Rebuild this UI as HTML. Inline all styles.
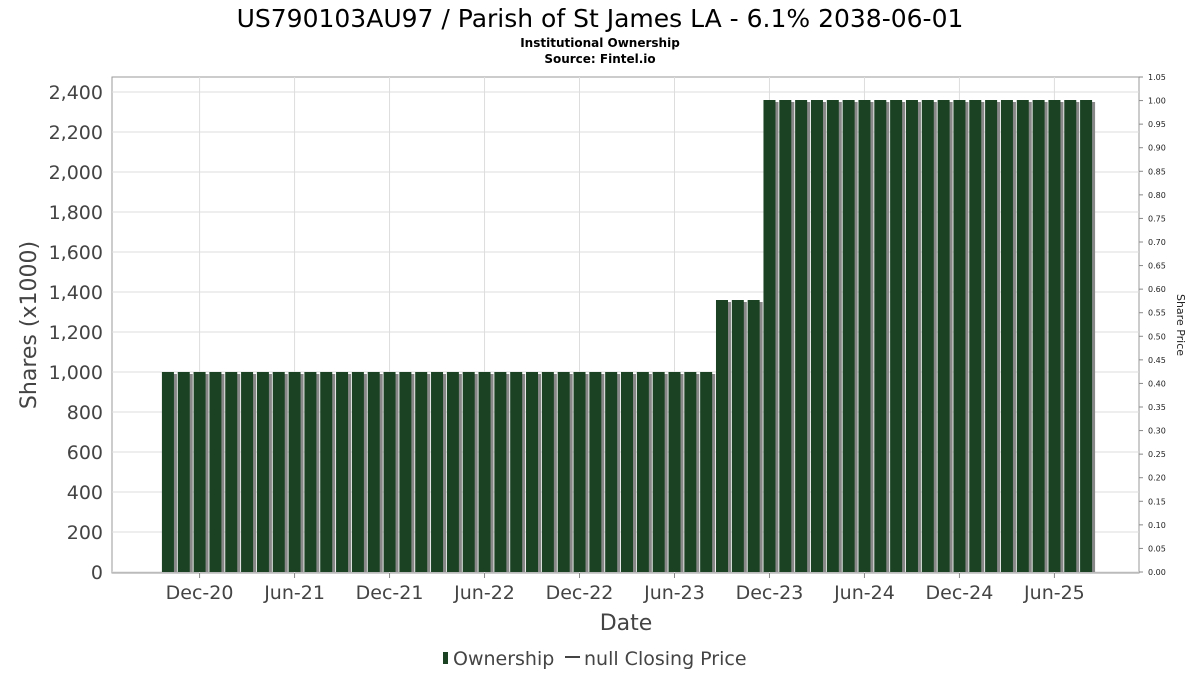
<!DOCTYPE html>
<html><head><meta charset="utf-8"><style>
body{margin:0;background:#fff;}
svg{display:block;font-family:"DejaVu Sans","Liberation Sans",sans-serif;}
</style></head><body>
<svg id="chart" width="1200" height="675" viewBox="0 0 1200 675">
<text x="600" y="27" font-size="25" text-anchor="middle" fill="#000">US790103AU97 / Parish of St James LA - 6.1% 2038-06-01</text>
<text x="600" y="47" font-size="12" font-weight="bold" text-anchor="middle">Institutional Ownership</text>
<text x="600" y="63" font-size="12" font-weight="bold" text-anchor="middle">Source: Fintel.io</text>
<rect x="112" y="77" width="1027" height="496" fill="#fff" stroke="#999"/>
<g id="grid"></g><g id="bars"></g><g id="axes"></g>
<text transform="translate(36,325) rotate(-90)" font-size="22" fill="#444" text-anchor="middle">Shares (x1000)</text>
<text transform="translate(1177,325) rotate(90)" font-size="11" fill="#222" text-anchor="middle">Share Price</text>
<text x="626" y="630" font-size="22" fill="#444" text-anchor="middle">Date</text>
<g>
<rect x="443" y="652" width="5" height="12" fill="#1a4223"/>
<text x="453" y="665" font-size="19" fill="#444">Ownership</text>
<line x1="565" y1="657" x2="580" y2="657" stroke="#444" stroke-width="2"/>
<text x="584" y="665" font-size="19" fill="#444">null Closing Price</text>
</g>
</svg>
<script>
const startYear = 2020, startMonth = 9; // Oct-20
const values = [1000,1000,1000,1000,1000,1000,1000,1000,1000,1000,1000,1000,1000,1000,1000,1000,1000,1000,1000,1000,1000,1000,1000,1000,1000,1000,1000,1000,1000,1000,1000,1000,1000,1000,1000,1360,1360,1360,2360,2360,2360,2360,2360,2360,2360,2360,2360,2360,2360,2360,2360,2360,2360,2360,2360,2360,2360,2360,2360];
const yTicks = [0,200,400,600,800,1000,1200,1400,1600,1800,2000,2200,2400];
const rightTicks = [0,0.05,0.1,0.15,0.2,0.25,0.3,0.35,0.4,0.45,0.5,0.55,0.6,0.65,0.7,0.75,0.8,0.85,0.9,0.95,1.0,1.05];
const xTickLabels = ["Dec-20","Jun-21","Dec-21","Jun-22","Dec-22","Jun-23","Dec-23","Jun-24","Dec-24","Jun-25"];
const xTickIndex = [2,8,14,20,26,32,38,44,50,56];
const NS="http://www.w3.org/2000/svg";
const x0=160, x1=1094, pitch=(x1-x0)/values.length;
const xC=i=>x0+(i+0.5)*pitch;
const y=v=>572-v*0.2;
const yR=v=>572-v*(495/1.05);
function mk(tag,attrs,parent,text){const e=document.createElementNS(NS,tag);for(const k in attrs)e.setAttribute(k,attrs[k]);if(text!==undefined)e.textContent=text;document.getElementById(parent).appendChild(e);return e;}
yTicks.forEach(v=>{
 const l=mk('line',{x1:112,x2:1139,y1:y(v),y2:y(v),stroke:'#ddd'},'grid');
 
 
 const t=mk('text',{x:103,y:y(v)+7,'font-size':19,'text-anchor':'end',fill:'#444'},'axes',v.toLocaleString('en-US'));
 
 
});
rightTicks.forEach(v=>{
 mk('line',{x1:1139,x2:1143,y1:yR(v),y2:yR(v),stroke:'#888'},'axes');
 const t=mk('text',{x:1148,y:yR(v)+3,'font-size':8,fill:'#222'},'axes',v.toFixed(2));
 
 
});
xTickIndex.forEach((idx,k)=>{
 const cx=xC(idx);
 const l=mk('line',{x1:cx,x2:cx,y1:77,y2:573,stroke:'#ddd'},'grid');
 
 
 mk('line',{x1:cx,x2:cx,y1:573,y2:578,stroke:'#888'},'axes');
 const t=mk('text',{x:cx,y:599,'font-size':19,'text-anchor':'middle',fill:'#444'},'axes',xTickLabels[k]);
 
 
});
values.forEach((v,i)=>{
 const bx=xC(i)-6, by=y(v), h=572-by;
 mk('rect',{x:bx+3,y:by+2,width:12,height:h-2,fill:'#888'},'bars');
 const r=mk('rect',{x:bx,y:by,width:12,height:h,fill:'#1a4223'},'bars');
 
 
});
</script>
</body></html>
